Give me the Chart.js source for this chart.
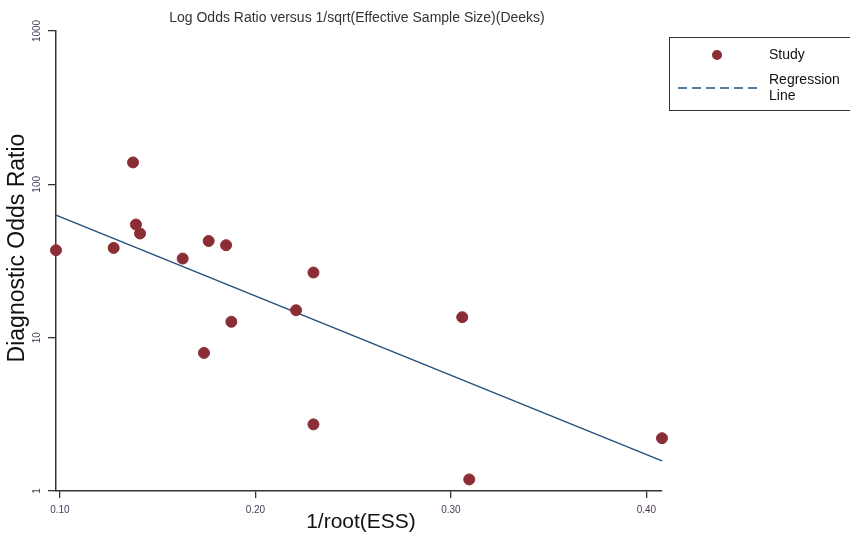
<!DOCTYPE html>
<html>
<head>
<meta charset="utf-8">
<script src="https://cdn.jsdelivr.net/npm/chart.js@4.4.0/dist/chart.umd.min.js"></script>
<style>
  html, body { margin: 0; padding: 0; background: #fff; }
  #wrap { width: 850px; height: 533px; }
</style>
</head>
<body>
<div id="wrap"><canvas id="deeksChart" width="850" height="533"></canvas></div>
<script>
// study points: 1/root(ESS) and diagnostic odds ratio
var studyX  = [0.098, 0.1275, 0.1374, 0.1389, 0.141, 0.1628, 0.1737, 0.1761, 0.185, 0.1877, 0.2208, 0.2297, 0.2297, 0.3058, 0.3094, 0.408];
var studyOR = [37.2, 38.5, 139, 54.7, 47.8, 32.8, 7.95, 42.7, 40.1, 12.7, 15.1, 26.6, 2.72, 13.6, 1.19, 2.21];

// regression line end points
var regX  = [0.098, 0.408];
var regOR = [62.9, 1.57];

var xTicks = [0.10, 0.20, 0.30, 0.40];
var yTicks = [1, 10, 100, 1000];

var pointColor = '#8b2d35';
var lineColor = '#234f7c';
var axisColor = '#333333';
var fontFam = '"Liberation Sans", Arial, sans-serif';

function toPoints(xs, ys) {
  return xs.map(function (x, i) { return { x: x, y: ys[i] }; });
}

// draws titles, rotated y tick labels and the boxed legend
var extras = {
  id: 'extras',
  afterDraw: function (chart) {
    var ctx = chart.ctx;
    var yScale = chart.scales.y;
    var area = chart.chartArea;
    ctx.save();
    ctx.fillStyle = '#333';
    ctx.textAlign = 'center';
    ctx.textBaseline = 'middle';

    ctx.font = '14px ' + fontFam;
    ctx.fillText('Log Odds Ratio versus 1/sqrt(Effective Sample Size)(Deeks)', 357, 18);

    ctx.fillStyle = '#111';
    ctx.font = '21px ' + fontFam;
    ctx.fillText('1/root(ESS)', 361, 522);

    ctx.save();
    ctx.translate(18, 248);
    ctx.rotate(-Math.PI / 2);
    ctx.font = '23px ' + fontFam;
    ctx.fillText('Diagnostic Odds Ratio', 0, 0);
    ctx.restore();

    // y tick labels, vertical like the original
    ctx.fillStyle = '#4a3b55';
    ctx.font = '10px ' + fontFam;
    yTicks.forEach(function (v) {
      var py = yScale.getPixelForValue(v);
      ctx.save();
      ctx.translate(area.left - 19, py);
      ctx.rotate(-Math.PI / 2);
      ctx.fillText(String(v), 0, 0);
      ctx.restore();
    });

    // legend box
    var study = chart.data.datasets[0];
    var reg = chart.data.datasets[1];
    ctx.strokeStyle = axisColor;
    ctx.lineWidth = 1;
    ctx.strokeRect(669.5, 37.5, 200, 73);

    ctx.fillStyle = study.backgroundColor;
    ctx.beginPath();
    ctx.arc(717, 55, 5, 0, Math.PI * 2);
    ctx.fill();

    ctx.strokeStyle = reg.borderColor;
    ctx.lineWidth = 1.5;
    ctx.setLineDash([9, 5]);
    ctx.beginPath();
    ctx.moveTo(678, 88);
    ctx.lineTo(757, 88);
    ctx.stroke();
    ctx.setLineDash([]);

    ctx.fillStyle = '#111';
    ctx.textAlign = 'left';
    ctx.font = '14px ' + fontFam;
    ctx.fillText(study.label, 769, 55);
    ctx.fillText('Regression', 769, 80);
    ctx.fillText('Line', 769, 96);
    ctx.restore();
  }
};

var ctx = document.getElementById('deeksChart').getContext('2d');
var deeksChart = new Chart(ctx, {
  type: 'scatter',
  data: {
    datasets: [{
      label: 'Study',
      data: toPoints(studyX, studyOR),
      backgroundColor: pointColor,
      borderColor: pointColor,
      pointRadius: 5.5,
      pointHoverRadius: 5.5,
      clip: false,
      order: 0
    }, {
      label: 'Regression Line',
      data: toPoints(regX, regOR),
      showLine: true,
      borderColor: lineColor,
      borderWidth: 1.4,
      pointRadius: 0,
      fill: false,
      clip: false,
      order: 1
    }]
  },
  options: {
    responsive: false,
    animation: false,
    events: [],
    layout: { padding: { top: 31, right: 188, left: 0, bottom: 0 } },
    plugins: {
      legend: { display: false },
      title: { display: false },
      tooltip: { enabled: false }
    },
    scales: {
      x: {
        type: 'linear',
        min: 0.098,
        max: 0.408,
        afterBuildTicks: function (scale) {
          scale.ticks = xTicks.map(function (v) { return { value: v }; });
        },
        afterFit: function (scale) { scale.height = 42; },
        border: { display: true, color: axisColor, width: 1.5 },
        grid: { display: true, drawOnChartArea: false, drawTicks: true, tickLength: 7, color: axisColor, lineWidth: 1.3 },
        ticks: {
          color: '#4a3b55',
          font: { family: fontFam, size: 10 },
          padding: 6,
          maxRotation: 0,
          callback: function (v) { return v.toFixed(2); }
        }
      },
      y: {
        type: 'logarithmic',
        min: 1,
        max: 1000,
        afterBuildTicks: function (scale) {
          scale.ticks = yTicks.map(function (v) { return { value: v }; });
        },
        afterFit: function (scale) { scale.width = 56; },
        border: { display: true, color: axisColor, width: 1.5 },
        grid: { display: true, drawOnChartArea: false, drawTicks: true, tickLength: 8, color: axisColor, lineWidth: 1.3 },
        ticks: { display: false }
      }
    }
  },
  plugins: [extras]
});
</script>
</body>
</html>
